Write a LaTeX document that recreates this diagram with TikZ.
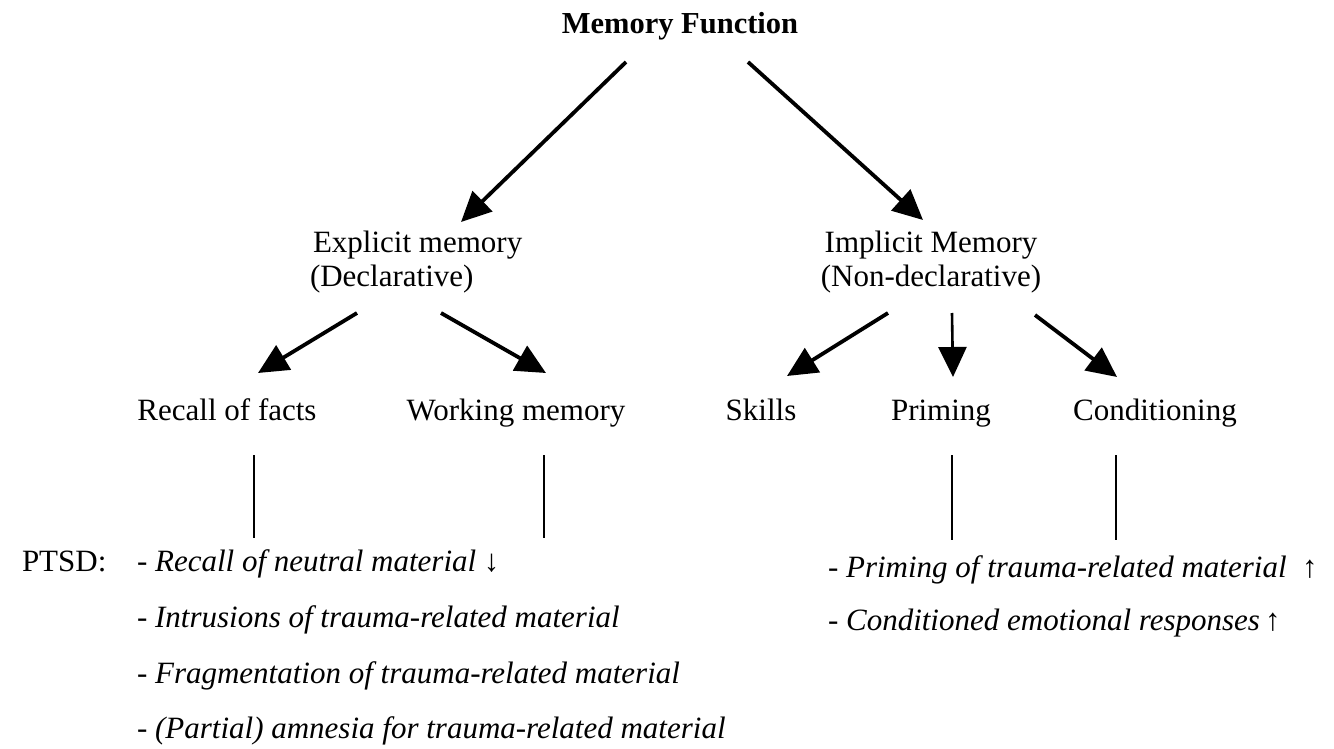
\documentclass[tikz,border=0pt]{standalone}
\usepackage{fontspec}
\setmainfont{Liberation Serif}
\usetikzlibrary{arrows.meta}
\tikzset{
  lbl/.style={inner sep=0pt, outer sep=0pt, font=\fontsize{31}{35}\selectfont},
  itl/.style={lbl, anchor=base west, font=\fontsize{31}{35}\selectfont\itshape},
  arr/.style={line width=3.8pt, -{Triangle[length=30pt,width=28pt]}},
  tie/.style={line width=1.8pt},
}
\begin{document}
\begin{tikzpicture}[x=1pt,y=-1pt]
\useasboundingbox (0,0) rectangle (1334,749);
% nodes
\node[lbl, anchor=base, font=\fontsize{30.5}{34}\selectfont\bfseries] (mf) at (680,34) {Memory Function};
\node[lbl, anchor=base west] (exA) at (313,252) {Explicit memory};
\node[lbl, anchor=base west] (exB) at (310,286) {(Declarative)};
\node[lbl, anchor=base] (imA) at (931,252) {Implicit Memory};
\node[lbl, anchor=base] (imB) at (931,286) {(Non-declarative)};
\node[lbl, anchor=base] (rec) at (227,420) {Recall of facts};
\node[lbl, anchor=base] (wm) at (516,420) {Working memory};
\node[lbl, anchor=base] (sk) at (761,420) {Skills};
\node[lbl, anchor=base] (pr) at (941,420) {Priming};
\node[lbl, anchor=base] (co) at (1155,420) {Conditioning};
\node[lbl, anchor=base west] (ptsd) at (22,571) {PTSD:};
\node[itl] (l1) at (137,571) {- Recall of neutral material {\upshape↓}};
\node[itl] (l2) at (137,627) {- Intrusions of trauma-related material};
\node[itl] (l3) at (137,683) {- Fragmentation of trauma-related material};
\node[itl] (l4) at (137,738) {- (Partial) amnesia for trauma-related material};
\node[itl] (r1) at (828,577) {- Priming of trauma-related material \ {\upshape↑}};
\node[itl] (r2) at (828,630) {- Conditioned emotional responses\,{\upshape↑}};
% connector ends
\coordinate (mfL) at (626,62);
\coordinate (mfR) at (748,62);
\coordinate (exT) at (461,222);
\coordinate (imT) at (923,220);
\coordinate (exL) at (357,313);
\coordinate (exR) at (441,313);
\coordinate (recT) at (258,373);
\coordinate (wmT) at (546,373);
\coordinate (imL) at (888,313);
\coordinate (imM) at (952,313);
\coordinate (imR) at (1035,315);
\coordinate (skT) at (787,376);
\coordinate (prT) at (953,377);
\coordinate (coT) at (1117,377);
\draw[arr] (mfL) -- (exT);
\draw[arr] (mfR) -- (imT);
\draw[arr] (exL) -- (recT);
\draw[arr] (exR) -- (wmT);
\draw[arr] (imL) -- (skT);
\draw[arr, line width=2.6pt] (imM) -- (prT);
\draw[arr] (imR) -- (coT);
% ties
\coordinate (t1a) at (254,455); \coordinate (t1b) at (254,538);
\coordinate (t2a) at (544,455); \coordinate (t2b) at (544,538);
\coordinate (t3a) at (952,455); \coordinate (t3b) at (952,540);
\coordinate (t4a) at (1116,455); \coordinate (t4b) at (1116,540);
\draw[tie] (t1a) -- (t1b);
\draw[tie] (t2a) -- (t2b);
\draw[tie] (t3a) -- (t3b);
\draw[tie] (t4a) -- (t4b);
\end{tikzpicture}
\end{document}
